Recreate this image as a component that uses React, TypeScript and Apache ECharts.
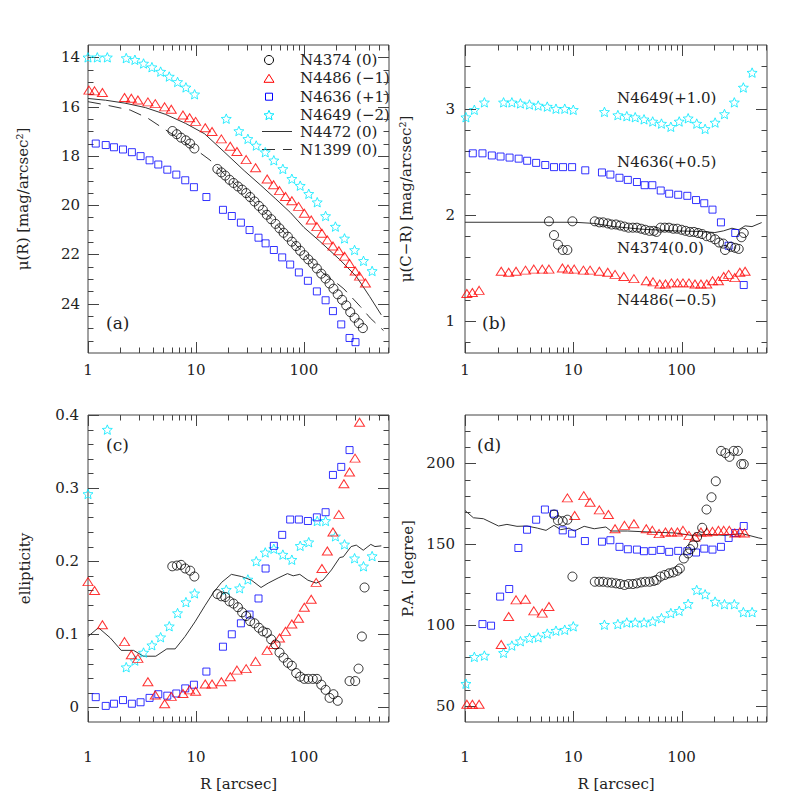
import React, { useEffect, useRef } from 'react';
import * as echarts from 'echarts';

// ---------- axis ranges & ticks ----------
const X_MIN = 1;
const X_MAX = 615;
const X_MAJOR = [1, 10, 100];
const X_MINOR = [2, 3, 4, 5, 6, 7, 8, 9, 20, 30, 40, 50, 60, 70, 80, 90, 200, 300, 400, 500, 600];
const X_LABELS = [1, 10, 100];

const A_Y_MAJOR = [14, 16, 18, 20, 22, 24];
const B_Y_MAJOR = [1, 2, 3];
const C_Y_MAJOR = [0, 0.1, 0.2, 0.3, 0.4];
const D_Y_MAJOR = [50, 100, 150, 200];

// ---------- panel (a): surface brightness ----------
const A_N4374 = [[6.06,16.99],[6.65,17.12],[7.28,17.26],[8.05,17.37],[8.82,17.5],[9.67,17.7],[15.8,18.53],[17.2,18.67],[18.7,18.8],[20.5,18.97],[22.3,19.1],[24.5,19.24],[26.8,19.37],[29.2,19.51],[31.8,19.67],[34.9,19.85],[38.3,20.03],[41.7,20.19],[45.4,20.39],[49.8,20.57],[54.7,20.76],[59.5,20.94],[64.8,21.12],[71.1,21.28],[77.4,21.48],[84.9,21.66],[92.5,21.85],[101,22.03],[110,22.2],[121,22.37],[132,22.57],[145,22.78],[159,22.98],[173,23.18],[188,23.39],[206,23.62],[226,23.84],[247,24.07],[269,24.34],[295,24.57],[323,24.79],[352,24.99]];
const A_N4486 = [[1.02,15.33],[1.15,15.36],[1.36,15.43],[2.18,15.63],[2.52,15.66],[2.9,15.73],[3.59,15.81],[4.2,15.88],[5.13,16.01],[5.91,16.11],[7.58,16.34],[8.74,16.45],[9.93,16.6],[12.2,16.86],[14.1,17.01],[17.2,17.31],[20.8,17.61],[24,17.82],[29.2,18.15],[35.7,18.48],[45.7,18.94],[52.4,19.17],[59.5,19.41],[67.6,19.65],[77.4,19.82],[89.3,20.05],[101,20.33],[117,20.6],[132,20.87],[147,21.14],[165,21.41],[186,21.66],[211,21.85],[238,22.07],[265,22.37],[299,22.67],[328,22.88],[372,23.16]];
const A_N4636 = [[1.18,17.5],[1.46,17.56],[1.74,17.65],[2.11,17.74],[2.55,17.85],[3.07,18.01],[3.72,18.18],[4.48,18.35],[5.43,18.56],[6.58,18.76],[7.96,18.99],[9.58,19.27],[12.5,19.67],[17.8,20.19],[21.5,20.44],[26.1,20.71],[31.4,21.01],[38,21.32],[44.2,21.55],[52.7,21.82],[63,22.12],[74.7,22.41],[89.9,22.73],[109,23.07],[132,23.5],[159,23.86],[186,24.3],[222,24.84],[265,25.39],[301,25.56]];
const A_N4649 = [[1,14.0],[1.22,14.0],[1.51,14.0],[2.26,14.03],[2.72,14.1],[3.27,14.25],[3.91,14.4],[4.71,14.58],[5.66,14.78],[6.76,15.0],[8.08,15.22],[9.72,15.5],[19.1,16.49],[25,16.99],[30.3,17.31],[36.2,17.58],[43.9,17.85],[52.7,18.18],[63.9,18.53],[77.4,18.93],[92.5,19.21],[111,19.54],[133,19.88],[159,20.44],[196,20.87],[238,21.35],[295,21.82],[357,22.26],[429,22.67]];
const A_N4472 = [[1,15.67],[1.45,15.74],[2.2,15.86],[3.4,16.04],[5.2,16.31],[8,16.68],[12,17.1],[18.6,17.87],[28,18.6],[40,19.2],[55,19.75],[75,20.3],[100,20.9],[140,21.46],[215,22.21],[306,22.89],[406,23.7],[521,24.45]];
const A_N1399 = [[1,15.8],[1.34,15.9],[2.46,16.14],[3.58,16.47],[5,16.89],[7,17.3],[10,17.75],[13.5,18.17],[20,18.9],[30,19.6],[50,20.55],[80,21.5],[120,22.35],[150,22.75],[200,23.15],[235,23.4],[333,24.11],[412,24.58],[547,25.09]];

// ---------- panel (b): colour ----------
const B_N4649 = [[1.02,2.92],[1.22,2.99],[1.51,3.06],[2.27,3.06],[2.71,3.06],[3.25,3.05],[3.94,3.04],[4.74,3.03],[5.75,3.02],[6.92,3.0],[8.34,3.0],[10,2.99],[19.4,2.97],[25.8,2.94],[31.2,2.93],[37.3,2.92],[45,2.9],[54.1,2.88],[65.2,2.86],[79.6,2.83],[95.1,2.88],[115,2.91],[138,2.86],[165,2.81],[204,2.87],[249,2.95],[307,3.06],[372,3.2],[448,3.34]];
const B_N4636 = [[1.18,2.58],[1.45,2.58],[1.77,2.56],[2.13,2.55],[2.58,2.54],[3.13,2.53],[3.75,2.51],[4.54,2.49],[5.51,2.47],[6.64,2.45],[8.04,2.45],[9.75,2.45],[12.9,2.42],[18.4,2.4],[22,2.38],[26.7,2.35],[31.9,2.33],[38.7,2.31],[45.6,2.28],[53.7,2.28],[64.2,2.23],[76.8,2.2],[93.1,2.19],[113,2.18],[136,2.14],[162,2.11],[193,2.05],[231,1.93],[272,1.71],[313,1.83],[375,1.34]];
const B_N4374 = [[5.96,1.94],[6.64,1.81],[7.22,1.72],[7.99,1.67],[8.82,1.67],[9.82,1.94],[15.8,1.94],[17.4,1.93],[18.9,1.93],[20.8,1.92],[22.6,1.91],[24.8,1.91],[27.1,1.9],[29.7,1.89],[32.4,1.88],[35.5,1.88],[38.7,1.88],[42.4,1.87],[46.2,1.86],[50.6,1.85],[55.3,1.85],[58.7,1.84],[64,1.88],[70,1.88],[76.6,1.88],[83.8,1.87],[91.3,1.87],[100,1.86],[109,1.85],[119,1.84],[130,1.84],[142,1.83],[155,1.82],[170,1.8],[186,1.79],[204,1.77],[222,1.74],[243,1.73],[252,1.67],[287,1.7],[313,1.69],[337,1.68],[357,1.79],[375,1.83]];
const B_N4486 = [[1.04,1.26],[1.17,1.27],[1.35,1.29],[2.16,1.47],[2.53,1.46],[2.96,1.47],[3.62,1.48],[4.32,1.49],[5.17,1.49],[5.96,1.49],[7.93,1.5],[8.94,1.49],[10.2,1.49],[12.4,1.48],[14.3,1.48],[17.4,1.47],[20.8,1.46],[24.3,1.44],[29.3,1.42],[36.3,1.4],[47.2,1.38],[54.5,1.37],[62.9,1.35],[71,1.35],[80.6,1.36],[91.6,1.36],[103,1.36],[117,1.36],[133,1.35],[151,1.35],[171,1.35],[193,1.38],[219,1.38],[245,1.42],[272,1.44],[310,1.41],[345,1.46],[386,1.47]];
const B_N4472 = [[1,1.931],[10.2,1.931],[15.6,1.92],[23.9,1.89],[42.4,1.866],[86.8,1.85],[153,1.844],[203,1.834],[244,1.85],[292,1.875],[336,1.86],[386,1.897],[447,1.89],[549,1.928]];

// ---------- panel (c): ellipticity ----------
const C_N4649 = [[1,0.292],[1.51,0.38],[2.26,0.055],[2.72,0.064],[3.27,0.075],[3.91,0.085],[4.71,0.096],[5.66,0.111],[6.76,0.129],[8.08,0.144],[9.72,0.156],[19.1,0.161],[25.4,0.163],[30.3,0.175],[36.2,0.2],[43.9,0.212],[52.7,0.217],[63.9,0.209],[77.4,0.202],[92.5,0.221],[111,0.226],[133,0.255],[159,0.255],[196,0.234],[238,0.223],[295,0.204],[357,0.193],[429,0.207]];
const C_N4636 = [[1.18,0.014],[1.46,0.002],[1.74,0.005],[2.11,0.01],[2.55,0.005],[3.07,0.007],[3.72,0.013],[4.48,0.018],[5.43,0.016],[6.58,0.019],[7.96,0.026],[9.58,0.031],[12.5,0.049],[17.8,0.083],[21.5,0.1],[26.1,0.115],[31.4,0.127],[38,0.149],[44.2,0.19],[52.7,0.221],[63,0.236],[74.7,0.257],[89.9,0.257],[109,0.255],[132,0.26],[159,0.267],[186,0.318],[222,0.329],[265,0.352]];
const C_N4486 = [[1,0.172],[1.15,0.16],[1.36,0.113],[2.18,0.09],[2.52,0.072],[2.9,0.067],[3.59,0.035],[4.2,0.017],[5.13,0.005],[5.91,0.015],[7.58,0.019],[8.74,0.024],[9.93,0.022],[12.2,0.032],[14.1,0.032],[17.2,0.035],[20.8,0.042],[24,0.051],[29.2,0.053],[35.7,0.063],[45.7,0.078],[52.4,0.086],[59.5,0.095],[67.6,0.104],[77.4,0.114],[89.3,0.122],[101,0.137],[117,0.148],[130,0.171],[147,0.19],[165,0.214],[186,0.24],[211,0.264],[235,0.306],[265,0.322],[298,0.341],[328,0.39]];
const C_N4374 = [[6.04,0.193],[6.66,0.194],[7.28,0.195],[7.96,0.19],[8.85,0.187],[9.67,0.179],[15.8,0.155],[17.2,0.152],[18.7,0.151],[20.5,0.145],[22.3,0.142],[24.5,0.137],[26.8,0.13],[29.2,0.125],[31.8,0.118],[34.9,0.115],[38.3,0.109],[41.7,0.104],[45.4,0.102],[49.8,0.093],[54.7,0.086],[59.5,0.075],[64.8,0.068],[71.1,0.061],[77.4,0.057],[84.9,0.047],[92.5,0.042],[101,0.039],[110,0.039],[121,0.039],[132,0.039],[145,0.031],[159,0.024],[173,0.013],[188,0.018],[206,0.009],[265,0.036],[299,0.036],[321,0.053],[345,0.097],[365,0.164]];
const C_N4472 = [[1,0.097],[1.25,0.109],[1.61,0.095],[2.03,0.078],[2.64,0.078],[3.26,0.07],[4.25,0.07],[5.37,0.08],[6.42,0.08],[7.93,0.097],[9.8,0.117],[12.1,0.139],[14.5,0.157],[17.3,0.171],[21.3,0.182],[26.5,0.179],[32.7,0.174],[40.1,0.164],[46.7,0.17],[57.7,0.177],[70.4,0.183],[79.6,0.18],[91.7,0.182],[109,0.174],[130,0.17],[150,0.174],[180,0.188],[215,0.205],[232,0.206],[274,0.22],[306,0.222],[355,0.215],[417,0.223],[456,0.22],[522,0.221]];

// ---------- panel (d): position angle ----------
const D_N4649 = [[1.02,63.7],[1.22,80.3],[1.51,81.1],[2.27,82.8],[2.71,87.3],[3.25,90],[3.94,92],[4.74,92.4],[5.75,94.7],[6.92,96.5],[8.34,97.1],[10,99.2],[19.4,100.2],[25.8,100.6],[31.2,101.6],[37.3,101.6],[45,101.6],[54.1,102.3],[65.2,104.3],[79.6,107.4],[95.1,108.8],[115,113.1],[138,121.7],[165,119],[204,114.5],[249,112.9],[307,112.9],[372,108],[448,108]];
const D_N4636 = [[1.45,100.6],[1.74,99.6],[2.11,117.6],[2.56,122.3],[3.11,147.7],[3.74,159],[4.54,165.2],[5.47,171.5],[6.64,168.9],[7.99,158.6],[9.75,156.6],[12.8,152],[18.4,151.6],[22,152.5],[26.7,148.4],[31.9,146.9],[38.7,146.7],[44.9,145.7],[53.7,145.9],[64.2,146.5],[76.8,145.3],[93.1,145.9],[113,145.7],[136,144.9],[162,147.3],[193,146.7],[231,148.4],[272,153.9],[313,157],[375,161.3]];
const D_N4486 = [[1.04,51],[1.17,51],[1.35,51],[2.16,88],[2.53,105.3],[2.96,115.6],[3.62,116],[4.32,108.8],[5.17,107.4],[5.96,111.5],[8.82,178.7],[10.3,167.8],[12.5,180.1],[14.3,176],[17.4,171.3],[21.1,168.4],[24.3,159.6],[29.7,161.7],[36.3,162.7],[47.2,159.6],[53.7,158.6],[62,156.6],[71,157.6],[80.6,157.6],[91.6,157.6],[103,158.6],[117,155.5],[133,154.5],[151,157.6],[171,157.6],[193,158],[219,158.6],[245,158.6],[276,158.6],[310,157],[345,157.6],[381,157]];
const D_N4374 = [[6.64,168.4],[7.22,164.8],[7.99,164.3],[8.82,165.2],[9.82,130],[15.8,126.8],[17.4,126.8],[18.9,126.8],[20.8,126.4],[22.6,126.2],[24.8,125.8],[27.1,125.4],[29.7,124.8],[32.4,125.4],[35.5,125.4],[38.7,125.8],[42.4,126.4],[46.2,126.8],[50.6,126.8],[55.3,127.3],[58.7,127.9],[64,130],[70,131],[76.6,132],[83.8,132.6],[91.3,133.6],[96.4,135],[105,141.2],[115,144.3],[120,147],[128,149.4],[139,154.5],[155,160.2],[170,171.5],[189,179.1],[207,189],[232,207.8],[254,206.4],[277,204.1],[303,207.8],[331,207.8],[356,199.6],[375,199.6]];
const D_N4472 = [[1,170.9],[1.195,166.4],[1.48,165.8],[2.04,161.3],[2.44,162.3],[3.02,161.1],[3.74,161.3],[4.65,160],[5.6,158.6],[6.63,161.7],[7.65,159],[9.15,160],[10.2,158.2],[12.6,161.1],[15.6,159.6],[20,160.7],[22.3,158.2],[31.8,158.2],[49,157.6],[86.8,157],[124,155.5],[177,156.1],[253,155.5],[362,156.6],[517,153.9],[555,153.5]];

// ---------- styling ----------
const FONT = 'DejaVu Serif';
const TXT = '#222';
const FRAME = '#444';
const STAR_PTS = [[0,-1],[0.2645,-0.364],[0.951,-0.309],[0.428,0.139],[0.588,0.809],[0,0.45],[-0.588,0.809],[-0.428,0.139],[-0.951,-0.309],[-0.2645,-0.364]];
const STAR_SYMBOL = 'path://M' + STAR_PTS.map(p => p[0] + ',' + p[1]).join(' L') + ' Z';

const GAL_STYLE: Record<string, any> = {
  N4374: { symbol: 'circle', size: 9, color: '#000000' },
  N4486: { symbol: 'triangle', size: [10, 8], color: '#ff0000' },
  N4636: { symbol: 'rect', size: 7, color: '#0000ff' },
  N4649: { symbol: STAR_SYMBOL, size: 10, color: '#00e8ff' },
};

function minorRange(start: number, end: number, step: number, majors: number[]) {
  const out: number[] = [];
  const n = Math.round((end - start) / step);
  for (let i = 0; i <= n; i++) {
    const v = +(start + i * step).toFixed(6);
    if (!majors.some(m => Math.abs(m - v) < 1e-9)) out.push(v);
  }
  return out;
}

function near(v: number, list: number[]) {
  return list.some(t => Math.abs(v - t) < 1e-6 * Math.max(1, Math.abs(t)));
}

const PANELS = [
  {
    grid: { left: 88, top: 45, width: 301, height: 308 },
    yMin: 13.5, yMax: 26, yInt: 0.5, inverse: true,
    yMajor: A_Y_MAJOR, yMinor: minorRange(14, 25.5, 0.5, A_Y_MAJOR),
    yName: 'μ(R) [mag/arcsec²]', yNameGap: 58, yLabelMargin: 8,
    xName: '', xLabelMargin: 9,
    scatter: { N4374: A_N4374, N4486: A_N4486, N4636: A_N4636, N4649: A_N4649 },
    solid: A_N4472, dashed: A_N1399,
  },
  {
    grid: { left: 465, top: 45, width: 302, height: 308 },
    yMin: 0.7, yMax: 3.6, yInt: 0.1, inverse: false,
    yMajor: B_Y_MAJOR, yMinor: minorRange(0.8, 3.4, 0.2, B_Y_MAJOR),
    yName: 'μ(C−R) [mag/arcsec²]', yNameGap: 52, yLabelMargin: 10,
    xName: '', xLabelMargin: 9,
    scatter: { N4374: B_N4374, N4486: B_N4486, N4636: B_N4636, N4649: B_N4649 },
    solid: B_N4472, dashed: null,
  },
  {
    grid: { left: 88, top: 415, width: 301, height: 307 },
    yMin: -0.02, yMax: 0.4, yInt: 0.02, inverse: false,
    yMajor: C_Y_MAJOR, yMinor: minorRange(0.02, 0.38, 0.02, C_Y_MAJOR),
    yName: 'ellipticity', yNameGap: 56, yLabelMargin: 9,
    xName: 'R [arcsec]', xLabelMargin: 27,
    scatter: { N4374: C_N4374, N4486: C_N4486, N4636: C_N4636, N4649: C_N4649 },
    solid: C_N4472, dashed: null,
  },
  {
    grid: { left: 465, top: 415, width: 302, height: 307 },
    yMin: 40, yMax: 230, yInt: 10, inverse: false,
    yMajor: D_Y_MAJOR, yMinor: minorRange(60, 220, 10, D_Y_MAJOR),
    yName: 'P.A. [degree]', yNameGap: 50, yLabelMargin: 10,
    xName: 'R [arcsec]', xLabelMargin: 27,
    scatter: { N4374: D_N4374, N4486: D_N4486, N4636: D_N4636, N4649: D_N4649 },
    solid: D_N4472, dashed: null,
  },
];

function tickSeries(i: number, p: any) {
  const data: number[][] = [];
  X_MAJOR.forEach(v => data.push([v, p.yMajor[0], 0]));
  X_MINOR.forEach(v => data.push([v, p.yMajor[0], 1]));
  p.yMajor.forEach((v: number) => data.push([2, v, 2]));
  p.yMinor.forEach((v: number) => data.push([2, v, 3]));
  return {
    type: 'custom',
    xAxisIndex: i,
    yAxisIndex: i,
    silent: true,
    z: 1,
    encode: { x: 0, y: 1 },
    data,
    renderItem: (params: any, api: any) => {
      const cs = params.coordSys;
      const kind = api.value(2);
      const pt = api.coord([api.value(0), api.value(1)]);
      const style = { stroke: FRAME, lineWidth: 1 };
      if (kind < 2) {
        const len = kind === 0 ? 11 : 5.5;
        const x = Math.round(pt[0]) + 0.5;
        return {
          type: 'group',
          children: [
            { type: 'line', shape: { x1: x, y1: cs.y + cs.height, x2: x, y2: cs.y + cs.height - len }, style },
            { type: 'line', shape: { x1: x, y1: cs.y, x2: x, y2: cs.y + len }, style },
          ],
        };
      }
      const len = kind === 2 ? 11 : 5.5;
      const y = Math.round(pt[1]) + 0.5;
      return {
        type: 'group',
        children: [
          { type: 'line', shape: { x1: cs.x, y1: y, x2: cs.x + len, y2: y }, style },
          { type: 'line', shape: { x1: cs.x + cs.width, y1: y, x2: cs.x + cs.width - len, y2: y }, style },
        ],
      };
    },
  };
}

function buildOption() {
  const textStyle = { fontFamily: FONT, color: TXT };
  const series: any[] = [];
  PANELS.forEach((p, i) => {
    series.push(tickSeries(i, p));
    if (p.solid) {
      series.push({
        type: 'line', xAxisIndex: i, yAxisIndex: i, data: p.solid, symbol: 'none', showSymbol: false,
        silent: true, lineStyle: { color: '#333', width: 1 }, z: 2,
      });
    }
    if (p.dashed) {
      series.push({
        type: 'line', xAxisIndex: i, yAxisIndex: i, data: p.dashed, symbol: 'none', showSymbol: false,
        silent: true, lineStyle: { color: '#333', width: 1, type: [13, 8] }, z: 2,
      });
    }
    (['N4649', 'N4636', 'N4486', 'N4374'] as const).forEach(g => {
      const st = GAL_STYLE[g];
      series.push({
        type: 'scatter', xAxisIndex: i, yAxisIndex: i, data: (p.scatter as any)[g],
        symbol: st.symbol, symbolSize: st.size, symbolKeepAspect: true, silent: true, z: 3,
        itemStyle: { color: 'transparent', borderColor: st.color, borderWidth: 1 },
      });
    });
  });

  const graphic: any[] = [];
  const txt = (text: string, x: number, y: number, size = 15) => ({
    type: 'text', x, y, silent: true,
    style: { text, fontFamily: FONT, fontSize: size, fill: TXT, align: 'left', verticalAlign: 'middle', textAlign: 'left', textVerticalAlign: 'middle' },
  });
  // legend (panel a)
  const LX = 269, TX = 300;
  const rows = [60, 78.3, 96.7, 115, 131.5, 149.5];
  graphic.push({ type: 'circle', shape: { cx: LX, cy: rows[0], r: 4.5 }, style: { fill: 'none', stroke: '#000', lineWidth: 1 } });
  graphic.push({ type: 'polygon', shape: { points: [[LX, rows[1] - 4], [LX + 5, rows[1] + 4], [LX - 5, rows[1] + 4]] }, style: { fill: 'none', stroke: '#ff0000', lineWidth: 1 } });
  graphic.push({ type: 'rect', shape: { x: LX - 3.5, y: rows[2] - 3.5, width: 7, height: 7 }, style: { fill: 'none', stroke: '#0000ff', lineWidth: 1 } });
  graphic.push({ type: 'polygon', shape: { points: STAR_PTS.map(q => [LX + q[0] * 5.2, rows[3] + q[1] * 5.2 + 0.5]) }, style: { fill: 'none', stroke: '#00e8ff', lineWidth: 1 } });
  graphic.push({ type: 'line', shape: { x1: 262, y1: rows[4], x2: 292, y2: rows[4] }, style: { stroke: '#333', lineWidth: 1 } });
  graphic.push({ type: 'line', shape: { x1: 262, y1: rows[5], x2: 292, y2: rows[5] }, style: { stroke: '#333', lineWidth: 1, lineDash: [13, 8] } });
  graphic.push(txt('N4374 (0)', TX, rows[0]));
  graphic.push(txt('N4486 (−1)', TX, rows[1]));
  graphic.push(txt('N4636 (+1)', TX, rows[2]));
  graphic.push(txt('N4649 (−2)', TX, rows[3]));
  graphic.push(txt('N4472 (0)', TX, rows[4]));
  graphic.push(txt('N1399 (0)', TX, rows[5]));
  // panel (b) annotations
  graphic.push(txt('N4649(+1.0)', 617, 98.3));
  graphic.push(txt('N4636(+0.5)', 617, 161.7));
  graphic.push(txt('N4374(0.0)', 617, 248.3));
  graphic.push(txt('N4486(−0.5)', 617, 300));
  // panel tags
  graphic.push(txt('(a)', 106, 323, 17));
  graphic.push(txt('(b)', 482, 323, 17));
  graphic.push(txt('(c)', 106, 445, 17));
  graphic.push(txt('(d)', 477, 445, 17));

  return {
    animation: false,
    backgroundColor: '#ffffff',
    grid: PANELS.map(p => ({ ...p.grid, show: true, borderColor: FRAME, borderWidth: 1, backgroundColor: 'transparent' })),
    xAxis: PANELS.map((p, i) => ({
      gridIndex: i, type: 'log', logBase: 10, min: X_MIN, max: X_MAX,
      axisLine: { show: false }, axisTick: { show: false }, splitLine: { show: false }, minorTick: { show: false },
      axisLabel: {
        ...textStyle, fontSize: 15, margin: p.xLabelMargin,
        formatter: (v: number) => (near(v, X_LABELS) ? String(Math.round(v)) : ''),
      },
      name: p.xName, nameLocation: 'middle', nameGap: 54,
      nameTextStyle: { ...textStyle, fontSize: 15 },
    })),
    yAxis: PANELS.map((p, i) => ({
      gridIndex: i, type: 'value', min: p.yMin, max: p.yMax, interval: p.yInt, inverse: p.inverse,
      axisLine: { show: false }, axisTick: { show: false }, splitLine: { show: false },
      axisLabel: {
        ...textStyle, fontSize: 15, margin: p.yLabelMargin,
        formatter: (v: number) => (near(v, p.yMajor) ? String(+v.toFixed(2)) : ''),
      },
      name: p.yName, nameLocation: 'middle', nameRotate: 90, nameGap: p.yNameGap,
      nameTextStyle: { ...textStyle, fontSize: 15 },
    })),
    series,
    graphic,
  };
}

export default function App() {
  const ref = useRef<HTMLDivElement>(null);
  useEffect(() => {
    if (!ref.current) return;
    const chart = echarts.init(ref.current, undefined, { renderer: 'svg' });
    chart.setOption(buildOption() as any);
    return () => chart.dispose();
  }, []);
  return (
    <div
      ref={ref}
      style={{ position: 'fixed', left: 0, top: 0, width: 810, height: 810, background: '#fff' }}
    />
  );
}
